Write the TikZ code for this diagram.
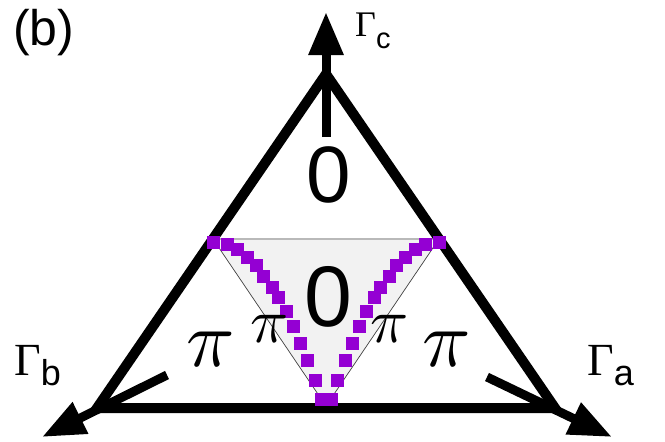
\documentclass[tikz,border=0pt]{standalone}
\usepackage{fontspec}
\setmainfont{Liberation Serif}
\setsansfont{Liberation Sans}
\usetikzlibrary{arrows.meta}
\definecolor{dotpurple}{RGB}{148,0,211}
\definecolor{innerfill}{RGB}{242,242,242}
\begin{document}
\begin{tikzpicture}[x=1pt,y=-1pt,
  frame/.style={line width=10pt, line join=miter},
  axisarrow/.style={line width=9pt, -{Triangle[length=43pt,width=33pt]}},
  dotsq/.style={fill=dotpurple},
  zerolab/.style={inner sep=0pt, anchor=base, font=\sffamily\fontsize{80}{80}\selectfont},
  pilab/.style={inner sep=0pt, anchor=base},
  gammalab/.style={inner sep=0pt, anchor=base west}
]
\useasboundingbox (0,0) rectangle (665,442);
% big triangle corners
\coordinate (A) at (326,74);
\coordinate (B) at (97,408);
\coordinate (C) at (555,408);
% inner triangle corners
\coordinate (P) at (213,239);
\coordinate (Q) at (439,239);
\coordinate (R) at (326,406);
\fill[innerfill] (P) -- (Q) -- (R) -- cycle;
\draw[gray!55, line width=1.5pt] (P) -- (Q);
\draw[black!75, line width=0.7pt] (P) -- (R) -- (Q);
\draw[frame] (A) -- (B) -- (C) -- cycle;
% axis arrows
\coordinate (cs) at (326,137);
\coordinate (ctip) at (326,12);
\coordinate (bs) at (167,375);
\coordinate (btip) at (42,437);
\coordinate (as) at (487,377);
\coordinate (atip) at (612,437);
\draw[axisarrow] (cs) -- (ctip);
\draw[axisarrow] (bs) -- (btip);
\draw[axisarrow] (as) -- (atip);
% purple dotted curves
\foreach \x/\y in {213/242,227/244,237/249,247/257,256/265,263/276,272/287,278/297,286/311,293/326,300/343,307/360,315/380,321/399}{
  \fill[dotsq] (\x-6.5,\y-6.5) rectangle (\x+6.5,\y+6.5);
  \fill[dotsq] (652-\x-6.5,\y-6.5) rectangle (652-\x+6.5,\y+6.5);
}
% labels
\node[zerolab] (z1) at (329,202) {0};
\node[zerolab, font=\sffamily\fontsize{86}{86}\selectfont] (z2) at (328,326) {0};
\node[pilab] (p1) at (211,366) {\scalebox{8}{$\pi$}};
\node[pilab] (p2) at (447,366) {\scalebox{8}{$\pi$}};
\node[pilab] (p3) at (270,342) {\scalebox{6.3}{$\pi$}};
\node[pilab] (p4) at (390,342) {\scalebox{6.3}{$\pi$}};
\node[gammalab] (gb) at (14,375) {\fontsize{46}{46}\selectfont Γ\raisebox{-10pt}{\sffamily\fontsize{36}{36}\selectfont b}};
\node[gammalab] (ga) at (587,375) {\fontsize{46}{46}\selectfont Γ\raisebox{-10pt}{\sffamily\fontsize{36}{36}\selectfont a}};
\node[gammalab] (gc) at (355,36) {\fontsize{36}{36}\selectfont Γ\raisebox{-12pt}{\sffamily\fontsize{29}{29}\selectfont c}};
\node[gammalab, font=\sffamily\fontsize{50}{50}\selectfont] (lbl) at (13,45) {(b)};
\end{tikzpicture}
\end{document}
